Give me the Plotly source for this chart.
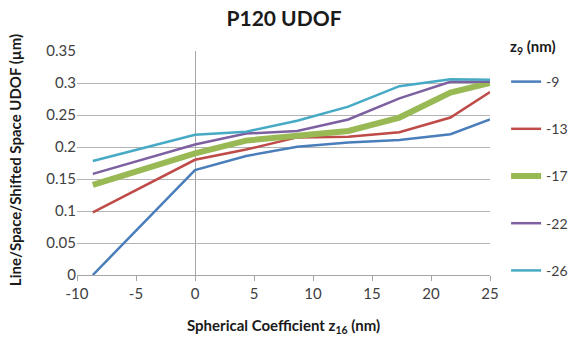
import plotly.graph_objects as go

x_vals = [-8.66, 0, 4.33, 8.66, 12.99, 17.32, 21.65, 25]
series_names = ["-9", "-13", "-17", "-22", "-26"]
blue = [0.0, 0.164, 0.186, 0.2005, 0.207, 0.211, 0.22, 0.243]
red = [0.098, 0.18, 0.196, 0.215, 0.216, 0.223, 0.246, 0.286]
green = [0.141, 0.19, 0.21, 0.217, 0.225, 0.246, 0.285, 0.30]
purple = [0.158, 0.204, 0.221, 0.225, 0.243, 0.276, 0.302, 0.302]
cyan = [0.178, 0.219, 0.224, 0.241, 0.263, 0.295, 0.306, 0.305]
x_ticks = [-10, -5, 0, 5, 10, 15, 20, 25]
x_tick_text = ["-10", "-5", "0", "5", "10", "15", "20", "25"]
y_ticks = [0, 0.05, 0.1, 0.15, 0.2, 0.25, 0.3, 0.35]
y_tick_text = ["0", "0.05", "0.1", "0.15", "0.2", "0.25", "0.3", "0.35"]

colors = ["#4a7ebb", "#be4b48", "#98b954", "#7d60a0", "#46aac5"]
widths = [2.5, 2.5, 6, 2.5, 2.5]
data = [blue, red, green, purple, cyan]

FONT = "Lato"
fig = go.Figure()
for name, ys, c, w in zip(series_names, data, colors, widths):
    fig.add_trace(go.Scatter(x=x_vals, y=ys, mode="lines", name=name,
                             legendgroup=name,
                             line=dict(color=c, width=w)))

fig.add_annotation(text="<b>z<sub>9</sub> (nm)</b>", xref="paper", yref="paper",
                   x=1.104, y=1.018, xanchor="center", yanchor="middle", showarrow=False,
                   font=dict(family=FONT, size=15, color="#1a1a1a"))
fig.add_annotation(text="<b>Line/Space/Shifted Space UDOF (µm)</b>", xref="paper", yref="paper",
                   x=-0.150, y=0.513, xanchor="center", yanchor="middle", showarrow=False,
                   textangle=-90, font=dict(family=FONT, size=15, color="#1a1a1a"))
fig.add_annotation(text="<b>Spherical Coefficient z<sub>16</sub> (nm)</b>", xref="paper", yref="paper",
                   x=0.499, y=-0.228, xanchor="center", yanchor="middle", showarrow=False,
                   font=dict(family=FONT, size=15, color="#1a1a1a"))

fig.update_layout(
    width=568, height=338,
    margin=dict(l=77, r=78, t=51, b=63, autoexpand=False),
    paper_bgcolor="white", plot_bgcolor="white",
    font=dict(family=FONT, size=15, color="#404040"),
    title=dict(text="<b>P120 UDOF</b>", x=0.5, xanchor="center", y=0.945, yanchor="middle",
               font=dict(family=FONT, size=21, color="#1a1a1a")),
    legend=dict(x=1.039, xanchor="left", y=0.933, yanchor="top",
                tracegroupgap=26, font=dict(family=FONT, size=14, color="#404040"),
                itemwidth=30, bgcolor="rgba(0,0,0,0)", maxheight=400),
    xaxis=dict(range=[-10, 25], tickvals=x_ticks, ticktext=x_tick_text, showgrid=False,
               zeroline=True, zerolinecolor="#a6a6a6", zerolinewidth=1,
               showline=True, linecolor="#a6a6a6", linewidth=1,
               ticks="outside", ticklen=5, tickcolor="#a6a6a6",
               tickfont=dict(family=FONT, size=15, color="#404040")),
    yaxis=dict(range=[0, 0.35], tickvals=y_ticks, ticktext=y_tick_text,
               showgrid=True, gridcolor="#b4b4b4", gridwidth=1,
               zeroline=False, showline=False, ticks="",
               tickfont=dict(family=FONT, size=15, color="#404040")),
)
fig.write_html("out.html")
